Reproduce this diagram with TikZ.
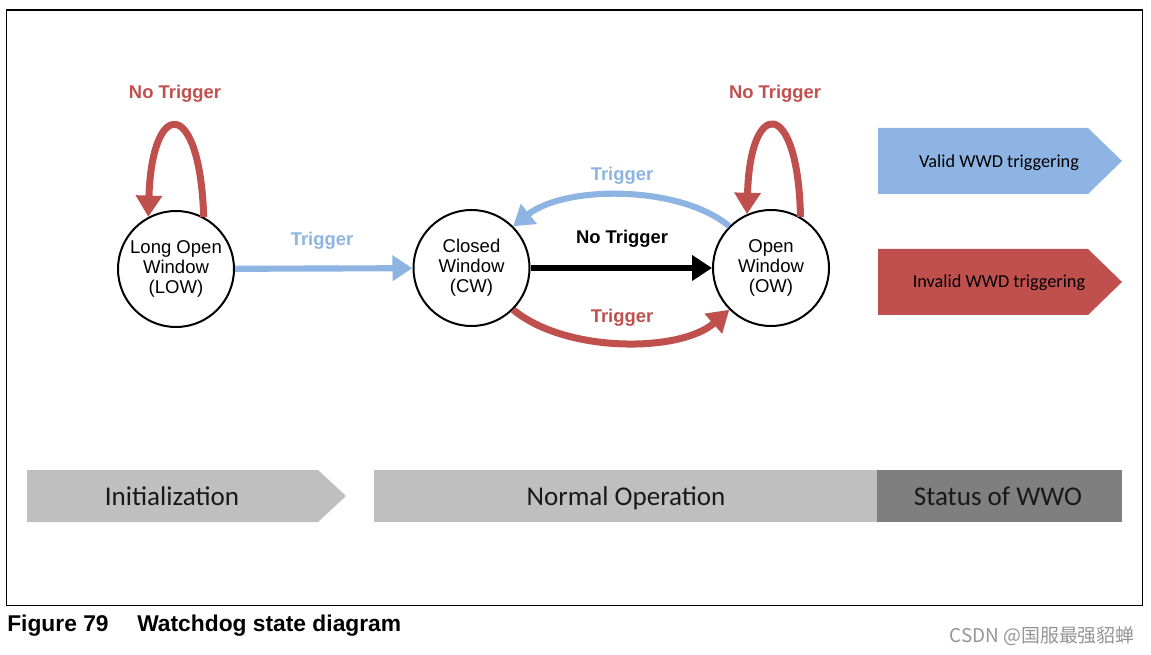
\documentclass[tikz,border=0pt]{standalone}
\usepackage{fontspec}
\setmainfont{Liberation Sans}
\newfontfamily\calibri{Carlito}
\newfontfamily\cjk{Noto Sans CJK SC}
\usepackage{xcolor}
\usetikzlibrary{arrows.meta}

\definecolor{wdred}{HTML}{C0504D}
\definecolor{wdblue}{HTML}{8DB4E2}
\definecolor{barlight}{HTML}{BFBFBF}
\definecolor{bardark}{HTML}{7F7F7F}

\tikzset{
	state/.style={draw,circle,line width=1.5pt,minimum size=87pt,inner sep=0pt,align=center,font=\fontsize{13.9}{15}\selectfont},
	trig/.style={font=\bfseries\fontsize{13.8}{16}\selectfont},
	redarrow/.style={draw=wdred,line width=5.25pt,-{Triangle[length=16pt,width=19pt,fill=wdred]}},
	bluearrow/.style={draw=wdblue,line width=4.6pt,-{Triangle[length=15pt,width=18.5pt,fill=wdblue]}},
	blackarrow/.style={draw=black,line width=4.6pt,-{Triangle[length=15pt,width=18.5pt]}},
	bartext/.style={anchor=base,inner sep=0pt,font=\calibri\fontsize{20.3}{22}\selectfont,text=black!90},
	legtext/.style={anchor=base,inner sep=0pt,font=\calibri\fontsize{13.7}{15}\selectfont,text=black}
}

\begin{document}
\begin{tikzpicture}[x=0.75pt,y=-0.75pt]
	\useasboundingbox (0,0) rectangle (1151,655);
	\draw[line width=0.9pt] (6.5,10) rectangle (1142.5,605.5);

	% states
	\node[state] (low) at (176,269) {Long Open\\Window\\(LOW)};
	\node[state] (cw) at (471.5,268) {Closed\\Window\\(CW)};
	\node[state] (ow) at (771,268) {Open\\Window\\(OW)};

	% transitions
	\draw[bluearrow] (low) -- (cw);
	\draw[blackarrow] (cw) -- (ow);
	\draw[bluearrow] (ow.135) .. controls (680,185) and (565,185) .. (cw.45);
	\draw[redarrow] (cw.-45) .. controls (565,353) and (680,353) .. (ow.225);
	\draw[redarrow] (low.62) .. controls (200,97) and (152,97) .. (low.118);
	\draw[redarrow] (ow.60) .. controls (798,97) and (750,97) .. (ow.114);

	\node[trig,text=wdred] (lowloop) at (175,94) {No Trigger};
	\node[trig,text=wdred] (owloop) at (775,94) {No Trigger};
	\node[trig,text=wdblue] (lowcw) at (322,241) {Trigger};
	\node[trig,text=black] (cwow) at (622,239) {No Trigger};
	\node[trig,text=wdblue] (owcw) at (622,176) {Trigger};
	\node[trig,text=wdred] (cwowred) at (622,318) {Trigger};

	% legend
	\fill[wdblue] (878,128) -- (1088,128) -- (1122,161) -- (1088,194) -- (878,194) -- cycle;
	\node[legtext] (valid) at (999,168) {Valid WWD triggering};
	\fill[wdred] (878,249) -- (1088,249) -- (1122,282) -- (1088,315) -- (878,315) -- cycle;
	\node[legtext] (invalid) at (999,288) {Invalid WWD triggering};

	% phases
	\fill[barlight] (27,470) -- (318,470) -- (346,496) -- (318,522) -- (27,522) -- cycle;
	\node[bartext] (init) at (172,505) {Initialization};
	\fill[barlight] (374,470) rectangle (877,522);
	\node[bartext] (normal) at (626,505) {Normal Operation};
	\fill[bardark] (877,470) rectangle (1122,522);
	\node[bartext] (status) at (998,505) {Status of WWO};

	% caption
	\node[anchor=base west,inner sep=0pt,font=\bfseries\fontsize{17.1}{18}\selectfont] (fig) at (7,631) {Figure 79};
	\node[anchor=base west,inner sep=0pt,font=\bfseries\fontsize{17.1}{18}\selectfont] (title) at (137,631) {Watchdog state diagram};
	\node[anchor=base east,inner sep=0pt,font=\cjk\fontsize{14.2}{15}\selectfont,text=black!42] (mark) at (1135,642) {CSDN @国服最强貂蝉};
\end{tikzpicture}
\end{document}
